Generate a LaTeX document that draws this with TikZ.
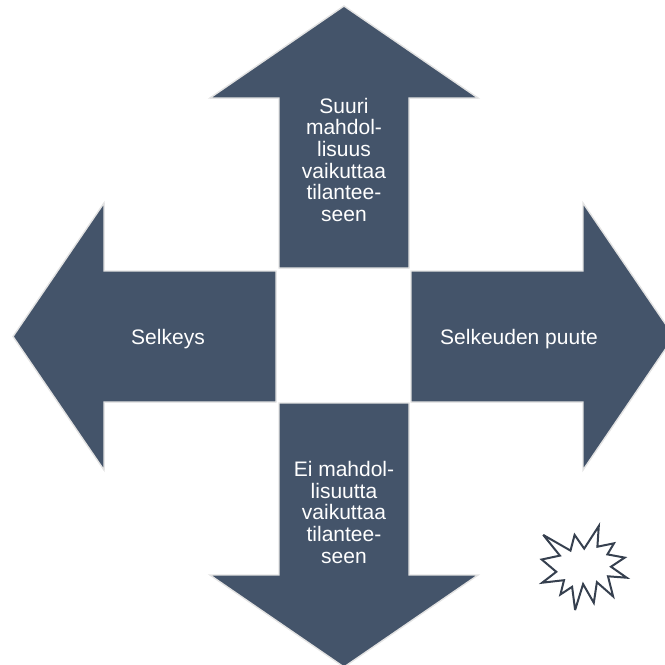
\documentclass[tikz,border=0pt]{standalone}
\usepackage{fontspec}
\setmainfont{Liberation Sans}
\definecolor{arrowfill}{HTML}{44546A}
\definecolor{arrowline}{HTML}{E3E3E3}
\definecolor{sealline}{HTML}{36404F}
\begin{document}
\begin{tikzpicture}[x=1pt,y=-1pt,
  arrowshape/.style={fill=arrowfill,draw=arrowline,line width=1.4pt,line join=miter},
  label/.style={text=white,inner sep=0pt,align=center,font=\fontsize{21}{21.7}\selectfont}]
\useasboundingbox (0,0) rectangle (665,665);
\clip (0,0) rectangle (665,665);
% up arrow
\draw[arrowshape] (279,268) -- (279,98) -- (210,98) -- (344,6) -- (478,98) -- (409,98) -- (409,268) -- cycle;
% left arrow
\draw[arrowshape] (276,271) -- (104,271) -- (104,203) -- (13,336.5) -- (104,470) -- (104,402) -- (276,402) -- cycle;
% right arrow
\draw[arrowshape] (411,271) -- (583,271) -- (583,203) -- (674,336.5) -- (583,470) -- (583,402) -- (411,402) -- cycle;
% down arrow
\draw[arrowshape] (279,403) -- (279,575) -- (210,575) -- (344,667) -- (478,575) -- (409,575) -- (409,403) -- cycle;
% labels (base anchor = baseline of the last line)
\node[label,anchor=base] (up) at (344,221.5) {Suuri\\mahdol-\\lisuus\\vaikuttaa\\tilantee-\\seen};
\node[label,anchor=base] (left) at (168,344) {Selkeys};
\node[label,anchor=base] (right) at (519,344) {Selkeuden puute};
\node[label,anchor=base] (down) at (344,563.3) {Ei mahdol-\\lisuutta\\vaikuttaa\\tilantee-\\seen};
% explosion
\draw[draw=sealline,fill=white,line width=2pt,line join=miter,miter limit=4]
  (584.2,548.6) -- (598.8,526) -- (597.4,546.7) -- (614.0,543.3) -- (607.4,554.4)
  -- (624.7,557.6) -- (611.0,566.7) -- (626.7,577.7) -- (608.0,576.3) -- (613.1,596.4)
  -- (596.9,582.2) -- (593.8,602.8) -- (583.1,584.1) -- (575.1,610) -- (572.1,586.8)
  -- (560.4,594.5) -- (564.0,580.2) -- (542.2,582.7) -- (556.3,571.8) -- (541.7,559.5)
  -- (559.9,555.6) -- (543.2,534.9) -- (570.5,550.6) -- (574.6,534.9) -- cycle;
\end{tikzpicture}
\end{document}
